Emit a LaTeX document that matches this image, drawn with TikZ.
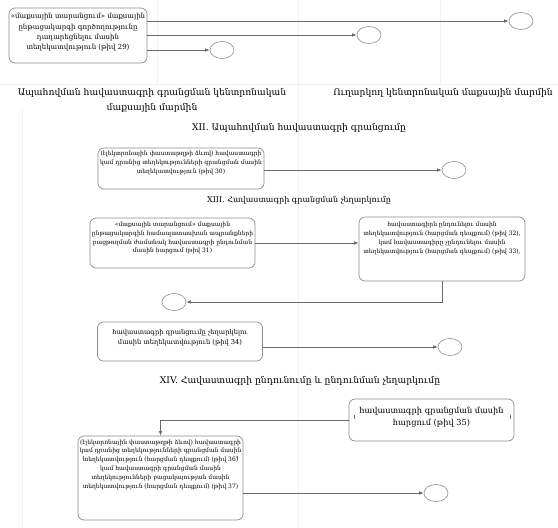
\documentclass[tikz,border=0pt]{standalone}
\usepackage{fontspec}
\setmainfont{DejaVu Serif}
\usetikzlibrary{arrows.meta,shapes.geometric}
\definecolor{ln}{HTML}{6A6A6A}
\definecolor{bx}{HTML}{8C8C8C}
\definecolor{lane}{HTML}{F1F1F1}
\begin{document}
\begin{tikzpicture}[x=1pt,y=-1pt,
  box/.style={draw=bx, line width=0.7pt, rounded corners=6pt, inner sep=0pt},
  btext/.style={font=\fontsize{6}{8.8}\selectfont, align=center, inner sep=0pt, anchor=north},
  endev/.style={draw=bx, line width=0.6pt, ellipse, minimum width=24pt, minimum height=17pt, inner sep=0pt},
  flow/.style={draw=ln, line width=0.6pt, -{Latex[length=4.5pt,width=3.5pt]}},
  head/.style={font=\fontsize{9.2}{15}\selectfont, align=center, inner sep=0pt},
  tick/.style={draw=ln, line width=0.4pt},
  faint/.style={draw=lane, line width=0.7pt}
]
\useasboundingbox (0,0) rectangle (558,528);
% faint lane lines
\coordinate (lt) at (298,0);
\coordinate (lb) at (298,528);
\draw[faint] (lt) -- (lb);
\coordinate (lt2) at (22,110);
\coordinate (lb2) at (22,528);
\draw[faint] (lt2) -- (lb2);
\coordinate (hl) at (0,84);
\coordinate (hr) at (558,84);
\draw[faint] (hl) -- (hr);
\coordinate (vt1) at (157,0);
\coordinate (vb1) at (157,84);
\draw[faint] (vt1) -- (vb1);
\coordinate (vt2) at (440,0);
\coordinate (vb2) at (440,84);
\draw[faint] (vt2) -- (vb2);

% ---- box 29
\node[box, minimum width=138pt, minimum height=55pt] (b29) at (78,35.5) {};
\node[btext, font=\fontsize{7}{10.4}\selectfont] (t29) at ([yshift=-5.5pt]b29.north) {«մաքսային տարանցում» մաքսային\\ընթացակարգի գործողությունը\\դադարեցնելու մասին\\տեղեկատվություն (թիվ 29)};
\node[endev] (c1) at (521,21) {};
\node[endev] (c2) at (369,35) {};
\node[endev] (c3) at (222,50) {};
\draw[flow] (b29.east |- c1.west) -- (c1.west);
\draw[flow] (b29.east |- c2.west) -- (c2.west);
\draw[flow] (b29.east |- c3.west) -- (c3.west);

% ---- headings
\node[head] (h1) at (152,100.5) {Ապահովման հավաստագրի գրանցման կենտրոնական\\մաքսային մարմին};
\node[head] (h2) at (443,93) {Ուղարկող կենտրոնական մաքսային մարմին};
\node[head] (h12) at (299,128) {XII. Ապահովման հավաստագրի գրանցումը};

% ---- box 30
\node[box, minimum width=166pt, minimum height=41pt] (b30) at (181,168.5) {};
\node[btext] (t30) at ([yshift=-3pt]b30.north) {(էլեկտրոնային փաստաթղթի ձևով) հավաստագրի\\կամ դրանից տեղեկությունների գրանցման մասին\\տեղեկատվություն (թիվ 30)};
\node[endev] (c30) at (454,170) {};
\draw[flow] (b30.east |- c30.west) -- (c30.west);

% ---- XIII
\node[head, font=\fontsize{8}{12}\selectfont] (h13) at (299,200) {XIII. Հավաստագրի գրանցման չեղարկումը};
\node[box, minimum width=165pt, minimum height=50pt] (b31) at (172.5,243) {};
\node[btext] (t31) at ([yshift=-4pt]b31.north) {«մաքսային տարանցում» մաքսային\\ընթացակարգին համապատասխան ապրանքների\\բացթողման ժամանակ հավաստագրի ընդունման\\մասին հարցում (թիվ 31)};
\node[box, minimum width=166pt, minimum height=64pt] (b32) at (442,249) {};
\node[btext] (t32) at ([yshift=-5.5pt]b32.north) {հավաստագիրն ընդունելու մասին\\տեղեկատվություն (հարցման դեպքում) (թիվ 32),\\կամ հավաստագիրը չընդունելու մասին\\տեղեկատվություն (հարցման դեպքում) (թիվ 33),};
\draw[flow] (b31.east) -- (b31.east -| b32.west);
\node[endev] (c33) at (174,302) {};
\draw[flow] (b32.south) |- (c33.east);

\node[box, minimum width=165pt, minimum height=39pt] (b34) at (180,341.5) {};
\node[btext, font=\fontsize{6.7}{10}\selectfont] (t34) at ([yshift=-7.5pt]b34.north) {հավաստագրի գրանցումը չեղարկելու\\մասին տեղեկատվություն (թիվ 34)};
\node[endev] (c34) at (450,347) {};
\draw[flow] (b34.east |- c34.west) -- (c34.west);

% ---- XIV
\node[head] (h14) at (300,381) {XIV. Հավաստագրի ընդունումը և ընդունման չեղարկումը};
\node[box, minimum width=165pt, minimum height=42pt] (b35) at (431.5,420) {};
\node[btext, font=\fontsize{8.2}{12}\selectfont] (t35) at ([yshift=-8.5pt]b35.north) {հավաստագրի գրանցման մասին\\հարցում (թիվ 35)};
\node[box, minimum width=165pt, minimum height=84pt] (b36) at (160.5,478) {};
\node[btext] (t36) at ([yshift=-3.6pt]b36.north) {(էլեկտրոնային փաստաթղթի ձևով) հավաստագրի\\կամ դրանից տեղեկությունների գրանցման մասին\\տեղեկատվություն (հարցման դեպքում) (թիվ 36)\\կամ հավաստագրի գրանցման մասին\\տեղեկությունների բացակայության մասին\\տեղեկատվություն (հարցման դեպքում) (թիվ 37)};
\draw[flow] (b35.west) -| (b36.north);
\node[endev] (c36) at (436,493) {};
\draw[flow] (b36.east |- c36.west) -- (c36.west);

% small tick marks
\coordinate (k1) at (354,415); \coordinate (k1e) at (354,419);
\coordinate (k2) at (510,415); \coordinate (k2e) at (510,419);
\coordinate (k3) at (83,456); \coordinate (k3e) at (83,460);
\coordinate (k4) at (237,456); \coordinate (k4e) at (237,460);
\draw[tick] (k1) -- (k1e);
\draw[tick] (k2) -- (k2e);
\draw[tick] (k3) -- (k3e);
\draw[tick] (k4) -- (k4e);
\end{tikzpicture}
\end{document}
